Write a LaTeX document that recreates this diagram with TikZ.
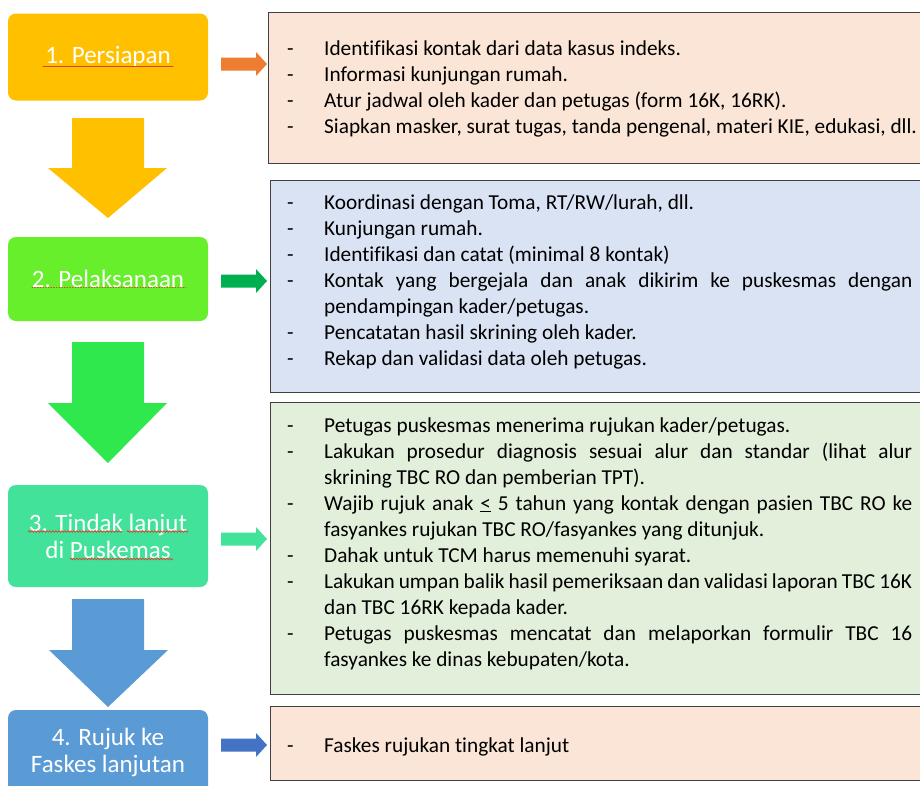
\documentclass[tikz,border=0pt]{standalone}
\usepackage{fontspec}
\setmainfont{Carlito}[Ligatures={NoCommon}]
\usetikzlibrary{decorations.pathmorphing}

% stage colours
\definecolor{stageA}{HTML}{FFC000}
\definecolor{stageB}{HTML}{66EF2A}
\definecolor{stageC}{HTML}{43E29A}
\definecolor{stageD}{HTML}{5B9BD5}
\definecolor{flowB}{HTML}{2EE84D}
% side arrows
\definecolor{sideA}{HTML}{ED7D31}
\definecolor{sideB}{HTML}{00B050}
\definecolor{sideC}{HTML}{43E29A}
\definecolor{sideD}{HTML}{4472C4}
% panels
\definecolor{panelA}{HTML}{FBE5D6}
\definecolor{panelB}{HTML}{DAE3F3}
\definecolor{panelC}{HTML}{E2EFDA}
\definecolor{panelline}{HTML}{404040}
\definecolor{spellmark}{HTML}{E0402A}

% one bullet line of a panel: dash, then hanging text
\newcommand\dashitem[1]{\par\noindent\hangindent=37pt\hangafter=1\relax
  \makebox[37pt][l]{-}#1\par}
\newcommand\notefont{\fontsize{21.3}{26}\selectfont
  \tolerance=10000\relax\emergencystretch=20pt\relax}

\begin{document}
\begin{tikzpicture}[x=1pt,y=-1pt,
  stage/.style={rounded corners=8pt, inner sep=0pt, minimum width=200pt,
    text=white, align=center, font=\fontsize{25}{27}\selectfont},
  panel/.style={draw=panelline, line width=1.4pt, inner sep=0pt,
    anchor=north west, minimum width=670pt},
  notes/.style={anchor=west, inner sep=0pt, text width=625pt, align=justify,
    font=\notefont},
  spell/.style={spellmark, line width=0.7pt, line cap=round},
  wavy/.style={spell, decorate, decoration={snake, amplitude=0.8pt, segment length=3pt}},
]
\useasboundingbox (0,0) rectangle (920,785);

% ---- stages on the left ----
\node[stage, fill=stageA, minimum height=87pt] (s1) at (108,57) {1. Persiapan};
\node[stage, fill=stageB, minimum height=84pt] (s2) at (108,279) {2. Pelaksanaan};
\node[stage, fill=stageC, minimum height=102pt] (s3) at (108,536) {3. Tindak lanjut\\di Puskemas};
\node[stage, fill=stageD, minimum height=84pt] (s4) at (108,752) {4. Rujuk ke\\Faskes lanjutan};

% spelling marks under the stage titles
\draw[spell] (43,66) -- (173,66);
\draw[spell, dotted, line width=0.9pt] (32,287.5) -- (186,287.5);
\draw[wavy] (28,531.5) -- (122,531.5);
\draw[wavy] (127,531.5) -- (188,531.5);
\draw[wavy] (70,559) -- (173,559);

% ---- block arrows between stages ----
\fill[stageA] (72,118) -- (144,118) -- (144,168) -- (167,168) -- (108,218)
  -- (48,168) -- (72,168) -- cycle;
\fill[flowB] (72,342) -- (144,342) -- (144,403) -- (167,403) -- (108,463)
  -- (48,403) -- (72,403) -- cycle;
\fill[stageD] (72,599) -- (144,599) -- (144,650) -- (168,650) -- (108,707)
  -- (49,650) -- (72,650) -- cycle;

% ---- side arrows pointing to the panels ----
\newcommand\sidearrow[2]{%
  \fill[#1, shift={(0,#2)}] (221,-6.5) -- (256,-6.5) -- (256,-12) -- (267,0)
    -- (256,12) -- (256,6.5) -- (221,6.5) -- cycle;}
\sidearrow{sideA}{64}
\sidearrow{sideB}{281}
\sidearrow{sideC}{539}
\sidearrow{sideD}{745}

% ---- panels on the right ----
\node[panel, fill=panelA, minimum height=151pt] (r1) at (268,12) {};
\node[panel, fill=panelB, minimum height=212pt] (r2) at (270,180) {};
\node[panel, fill=panelC, minimum height=292pt] (r3) at (270,402) {};
\node[panel, fill=panelA, minimum height=74pt] (r4) at (270,706) {};

\node[notes, text width=660pt] (n1) at (287,83) {%
  \dashitem{Identifikasi kontak dari data kasus indeks.}
  \dashitem{Informasi kunjungan rumah.}
  \dashitem{Atur jadwal oleh kader dan petugas (form 16K, 16RK).}
  \dashitem{Siapkan masker, surat tugas, tanda pengenal, materi KIE, edukasi, dll.}};

\node[notes] (n2) at (287,276) {%
  \dashitem{Koordinasi dengan Toma, RT/RW/lurah, dll.}
  \dashitem{Kunjungan rumah.}
  \dashitem{Identifikasi dan catat (minimal 8 kontak)}
  \dashitem{Kontak yang bergejala dan anak dikirim ke puskesmas dengan
    \linebreak pendampingan kader/petugas.}
  \dashitem{Pencatatan hasil skrining oleh kader.}
  \dashitem{Rekap dan validasi data oleh petugas.}};

\node[notes] (n3) at (287,538) {%
  \dashitem{Petugas puskesmas menerima rujukan kader/petugas.}
  \dashitem{Lakukan prosedur diagnosis sesuai alur dan standar (lihat alur
    \linebreak skrining TBC RO dan pemberian TPT).}
  \dashitem{Wajib rujuk anak \underline{<} 5 tahun yang kontak dengan pasien TBC RO ke
    \linebreak fasyankes rujukan TBC RO/fasyankes yang ditunjuk.}
  \dashitem{Dahak untuk TCM harus memenuhi syarat.}
  \dashitem{Lakukan umpan balik hasil pemeriksaan dan validasi laporan TBC 16K
    \linebreak dan TBC 16RK kepada kader.}
  \dashitem{Petugas puskesmas mencatat dan melaporkan formulir TBC 16
    \linebreak fasyankes ke dinas kebupaten/kota.}};

\node[notes] (n4) at (287,741) {%
  \dashitem{Faskes rujukan tingkat lanjut}};

\end{tikzpicture}
\end{document}
